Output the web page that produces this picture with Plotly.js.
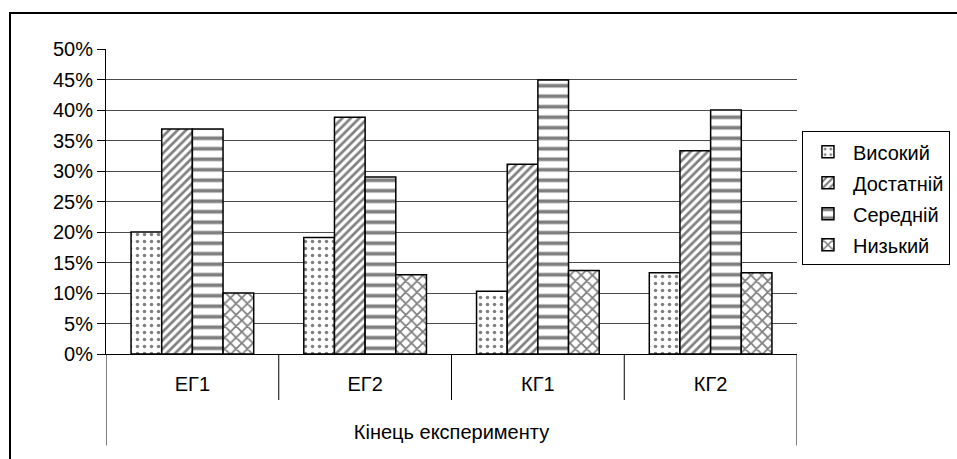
<!DOCTYPE html>
<html>
<head>
<meta charset="utf-8">
<script src="https://cdn.plot.ly/plotly-3.0.1.min.js"></script>
<style>
body{margin:0;background:#fff;}
#frame{position:absolute;left:9px;top:12px;width:1000px;height:500px;border-left:2px solid #000;border-top:2px solid #000;}
#chart{position:absolute;left:0;top:0;width:957px;height:459px;}
</style>
</head>
<body>
<div id="frame"></div>
<div id="chart"></div>
<script>
const outerCategory = "Кінець експерименту";
const groups = ["ЕГ1", "ЕГ2", "КГ1", "КГ2"];
const seriesNames = ["Високий", "Достатній", "Середній", "Низький"];
const vysokyi   = [0.200, 0.191, 0.103, 0.133];
const dostatnii = [0.369, 0.388, 0.311, 0.333];
const serednii  = [0.369, 0.290, 0.449, 0.400];
const nyzkyi    = [0.100, 0.130, 0.137, 0.133];

const seriesValues = [vysokyi, dostatnii, serednii, nyzkyi];
const patterns = [
  {shape: ".", size: 7, solidity: 0.2},
  {shape: "/", size: 6, solidity: 0.45},
  {shape: "-", size: 10.5, solidity: 0.35},
  {shape: "x", size: 8, solidity: 0.4}
];

const traces = seriesNames.map((name, i) => ({
  type: "bar",
  name: name,
  x: groups,
  y: seriesValues[i],
  legendgroup: "g" + i,
  marker: {
    color: "#ffffff",
    line: {color: "#000000", width: 1.5},
    pattern: Object.assign({fgcolor: "#000000", bgcolor: "#ffffff", fillmode: "overlay"}, patterns[i])
  },
  hoverinfo: "name+y"
}));

const font = {family: "Arial", size: 20, color: "#000"};

// category divider lines below the axis (inner short, outer long)
const shapes = [];
for (let k = 0; k <= groups.length; k++) {
  const edge = (k === 0 || k === groups.length);
  shapes.push({
    type: "line", xref: "x", yref: "paper",
    x0: k - 0.5, x1: k - 0.5, y0: 0, y1: edge ? -0.3 : -0.151,
    line: {color: "#000", width: 1}
  });
}

const layout = {
  width: 957,
  height: 459,
  paper_bgcolor: "rgba(0,0,0,0)",
  plot_bgcolor: "rgba(0,0,0,0)",
  margin: {l: 106, r: 160, t: 49, b: 105},
  font: font,
  barmode: "group",
  bargap: 0.29,
  bargroupgap: 0,
  showlegend: true,
  shapes: shapes,
  legend: {
    xref: "container", yref: "container",
    x: 0.838, y: 0.714, xanchor: "left", yanchor: "top",
    bordercolor: "#000", borderwidth: 1, bgcolor: "#fff",
    font: font, tracegroupgap: 2, itemwidth: 40
  },
  xaxis: {
    type: "category",
    range: [-0.5, groups.length - 0.5],
    showline: true, linecolor: "#000", linewidth: 1,
    ticks: "", showgrid: false,
    ticklabelstandoff: 12,
    tickfont: font,
    title: {text: outerCategory, font: font, standoff: 30}
  },
  yaxis: {
    range: [0, 0.5],
    dtick: 0.05,
    tickformat: ".0%",
    showline: true, linecolor: "#000", linewidth: 1,
    ticks: "outside", ticklen: 8, tickcolor: "#000",
    showgrid: true, gridcolor: "#4a4a4a", gridwidth: 1,
    zeroline: false,
    tickfont: font
  }
};

Plotly.newPlot("chart", traces, layout, {displayModeBar: false, staticPlot: true});
</script>
</body>
</html>
